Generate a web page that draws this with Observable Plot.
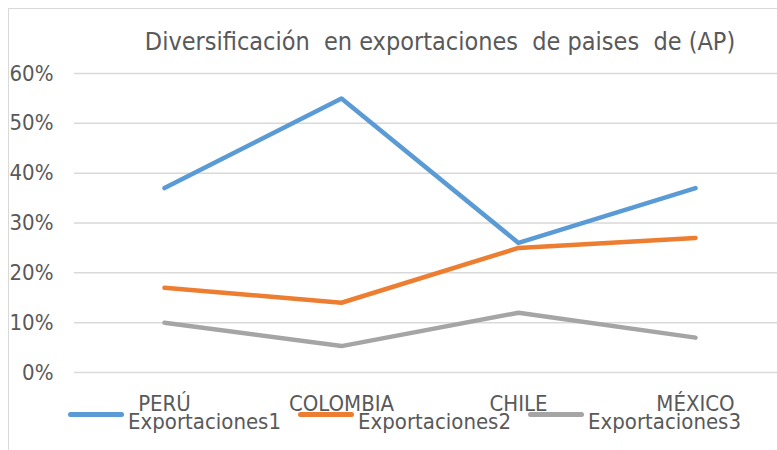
<!DOCTYPE html>
<html><head><meta charset="utf-8">
<script src="https://cdn.jsdelivr.net/npm/d3@7"></script>
<script src="https://cdn.jsdelivr.net/npm/@observablehq/plot@0.6"></script>
<style>
body{margin:0;background:#fff;overflow:hidden;width:777px;height:450px;position:relative;font-family:"DejaVu Sans Condensed","Liberation Sans Narrow",sans-serif;color:#595959}
#frame{position:absolute;left:8px;top:8px;width:900px;height:600px;border:1px solid #d9d9d9;box-sizing:border-box}
#title{position:absolute;left:0;width:880px;top:27px;text-align:center;font-size:25px;line-height:30px;white-space:pre}
#chart{position:absolute;left:0;top:60px}
.item{position:absolute;top:406px;height:24px;white-space:nowrap;font-size:22px;line-height:24px}
.sw{position:absolute;left:0;top:6px;width:56px;height:5px;border-radius:3px}
.lab{position:absolute;left:60px;top:4px}
</style></head>
<body>
<div id="frame"></div>
<div id="title">Diversificación  en exportaciones  de paises  de (AP)</div>
<div id="chart"></div>
<div id="legend"></div>
<script>
const categories = ["PERÚ", "COLOMBIA", "CHILE", "MÉXICO"];
const series = ["Exportaciones1", "Exportaciones2", "Exportaciones3"];
const exportaciones1 = [0.37, 0.55, 0.26, 0.37];
const exportaciones2 = [0.17, 0.14, 0.25, 0.27];
const exportaciones3 = [0.10, 0.053, 0.12, 0.07];
const yTicks = [0, 0.1, 0.2, 0.3, 0.4, 0.5, 0.6];
const colors = ["#5b9bd5", "#ed7d31", "#a5a5a5"];

const values = [exportaciones1, exportaciones2, exportaciones3];
const data = series.flatMap((s, i) => categories.map((c, j) => ({serie: s, pais: c, valor: values[i][j]})));

const chart = Plot.plot({
  width: 777,
  height: 390,
  marginTop: 13,
  marginBottom: 78,
  marginLeft: 74,
  marginRight: -7,
  style: {fontFamily: '"DejaVu Sans Condensed","Liberation Sans Narrow",sans-serif', fontSize: "22px", color: "#595959", overflow: "visible"},
  x: {type: "point", domain: categories, padding: 0.5},
  y: {domain: [0, 0.6]},
  color: {domain: series, range: colors},
  marks: [
    Plot.ruleY(yTicks, {stroke: "#d9d9d9", strokeWidth: 1.5}),
    Plot.axisY({ticks: yTicks, tickFormat: d3.format(".0%"), tickSize: 0, tickPadding: 21, label: null}),
    Plot.axisX({tickSize: 0, tickPadding: 23, label: null}),
    Plot.line(data, {x: "pais", y: "valor", z: "serie", stroke: "serie", strokeWidth: 4.5, strokeLinecap: "round", strokeLinejoin: "round"})
  ]
});
document.getElementById("chart").appendChild(chart);

const legend = document.getElementById("legend");
series.forEach((s, i) => {
  const item = document.createElement("div");
  item.className = "item";
  item.style.left = (68 + i * 230) + "px";
  const sw = document.createElement("span");
  sw.className = "sw";
  sw.style.background = colors[i];
  const lab = document.createElement("span");
  lab.className = "lab";
  lab.textContent = s;
  item.appendChild(sw);
  item.appendChild(lab);
  legend.appendChild(item);
});
</script>
</body></html>
